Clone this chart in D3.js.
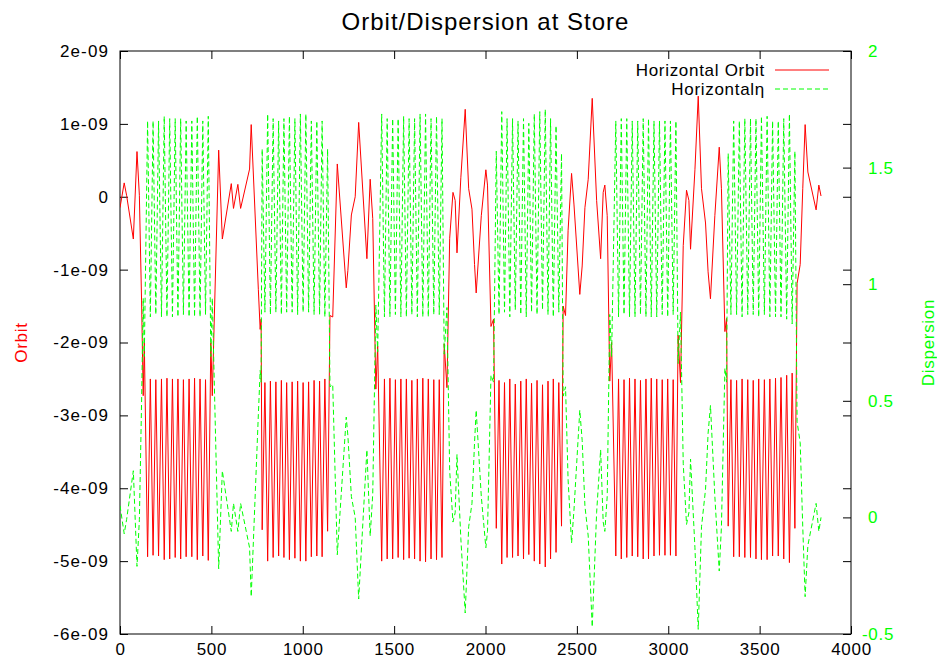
<!DOCTYPE html>
<html>
<head>
<meta charset="utf-8">
<script src="https://cdn.jsdelivr.net/npm/d3@7"></script>
<style>
  body { margin: 0; background: #fff; }
  svg { display: block; }
  text { font-family: "Liberation Sans", Arial, Helvetica, sans-serif; }
</style>
</head>
<body>
<svg id="chart" width="937" height="664"></svg>
<script>
// Lattice position (m) of each sample along the ring
const position = [
  0, 23, 36, 73, 93, 106, 118, 127, 133,
  151, 166, 181, 196, 211, 227, 242, 257, 272, 287, 302, 317, 332, 347, 362, 378, 393, 408, 423, 438, 453, 468, 483,
  497, 505, 540, 560, 609, 621, 645, 660, 709, 718, 757, 767, 772,
  778, 793, 808, 823, 838, 853, 868, 883, 897, 912, 927, 942, 957, 972, 987, 1002, 1017, 1032, 1047, 1062, 1077, 1092, 1106, 1121, 1136,
  1149, 1164, 1189, 1238, 1247, 1266, 1287, 1306, 1351, 1369, 1383, 1400, 1410,
  1432, 1447, 1462, 1477, 1492, 1507, 1522, 1537, 1552, 1567, 1582, 1597, 1612, 1627, 1642, 1657, 1672, 1687, 1702, 1717, 1732, 1747, 1762,
  1774, 1789, 1804, 1822, 1834, 1844, 1865, 1889, 1908, 1926, 1940, 1949, 1977, 2002, 2011, 2030, 2044,
  2059, 2074, 2089, 2104, 2118, 2133, 2148, 2163, 2178, 2193, 2208, 2223, 2237, 2252, 2267, 2282, 2297, 2312, 2327, 2342, 2356, 2371, 2386, 2401, 2416,
  2425, 2438, 2452, 2471, 2484, 2516, 2529, 2544, 2562, 2584, 2608, 2630, 2644, 2653, 2666, 2680, 2690,
  2713, 2728, 2743, 2758, 2773, 2788, 2803, 2818, 2833, 2848, 2863, 2878, 2892, 2907, 2922, 2937, 2952, 2967, 2982, 2997, 3012, 3027, 3042,
  3054, 3067, 3082, 3100, 3113, 3122, 3146, 3164, 3182, 3204, 3218, 3231, 3255, 3279, 3291, 3310, 3319,
  3328, 3343, 3358, 3374, 3389, 3404, 3419, 3435, 3450, 3465, 3480, 3495, 3510, 3526, 3541, 3556, 3571, 3587, 3602, 3617, 3632, 3648, 3663, 3678, 3693,
  3705, 3722, 3736, 3749, 3764, 3809, 3824, 3836
];

// Horizontal closed orbit, in units of 1e-9 m
const orbit = [
  -0.15, 0.19, 0.02, -0.58, 0.62, 0.02, -1.43, -2.73, -2.0,
  -4.94, -2.50, -4.92, -2.51, -4.93, -2.50, -4.98, -2.49, -4.97, -2.50, -4.95, -2.50, -4.97, -2.51, -4.94, -2.50, -4.94, -2.49, -4.98, -2.50, -4.93, -2.51, -4.99,
  -2.0, -2.73, 0.64, -0.58, 0.18, -0.16, 0.17, -0.16, 0.38, 0.99, -1.27, -1.82, -1.68,
  -4.57, -2.55, -5.0, -2.53, -4.95, -2.54, -4.93, -2.52, -4.95, -2.55, -4.98, -2.54, -4.96, -2.53, -5.0, -2.55, -5.0, -2.54, -4.94, -2.52, -4.93, -2.53, -4.94, -2.50, -4.59,
  -1.63, -1.65, 0.45, -1.25, -1.01, -0.25, 0.0, 1.02, -0.85, 0.24, -0.30, -2.64, -2.05,
  -5.0, -2.50, -4.97, -2.49, -4.97, -2.51, -4.95, -2.50, -4.98, -2.50, -4.96, -2.52, -4.97, -2.50, -5.0, -2.49, -5.01, -2.50, -4.97, -2.51, -4.98, -2.51, -4.95,
  -2.02, -2.62, -0.57, 0.06, -0.05, -0.77, 0.26, 1.20, 0.11, -0.17, -0.93, -1.32, -0.26, 0.37, 0.16, -1.78, -1.68,
  -4.55, -2.52, -5.04, -2.55, -4.95, -2.50, -4.95, -2.57, -4.93, -2.53, -4.97, -2.50, -4.91, -2.56, -5.0, -2.52, -5.04, -2.58, -5.08, -2.53, -4.97, -2.50, -4.88, -2.55, -4.52,
  -1.50, -1.63, -0.46, 0.32, -0.10, -1.34, -0.95, -0.15, 0.24, 1.35, -0.05, -0.85, 0.06, 0.16, -0.26, -2.53, -2.0,
  -4.93, -2.50, -4.97, -2.51, -4.95, -2.49, -4.93, -2.50, -4.94, -2.52, -4.97, -2.50, -4.97, -2.49, -4.93, -2.50, -4.92, -2.51, -4.92, -2.50, -4.92, -2.51, -4.93,
  -1.90, -2.55, -0.67, 0.09, -0.05, -0.72, 0.37, 1.38, 0.11, -0.36, -1.03, -1.40, -0.26, 0.68, 0.11, -1.85, -1.67,
  -4.52, -2.51, -4.94, -2.52, -4.94, -2.50, -4.95, -2.51, -4.95, -2.52, -4.97, -2.50, -4.98, -2.51, -4.98, -2.50, -4.93, -2.49, -4.93, -2.48, -4.97, -2.45, -5.02, -2.42, -4.55,
  -1.19, -0.93, 0.11, 0.99, 0.34, -0.18, 0.16, 0.01
];

// Horizontal dispersion (m)
const dispersion = [
  0.05, -0.07, -0.01, 0.20, -0.21, -0.01, 0.49, 0.94, 0.69,
  1.70, 0.86, 1.70, 0.87, 1.70, 0.86, 1.72, 0.86, 1.71, 0.86, 1.71, 0.86, 1.71, 0.87, 1.70, 0.86, 1.70, 0.86, 1.72, 0.86, 1.70, 0.87, 1.72,
  0.69, 0.94, -0.22, 0.20, -0.06, 0.06, -0.06, 0.06, -0.13, -0.34, 0.44, 0.63, 0.58,
  1.58, 0.88, 1.73, 0.87, 1.71, 0.88, 1.70, 0.87, 1.71, 0.88, 1.72, 0.88, 1.71, 0.87, 1.73, 0.88, 1.73, 0.88, 1.70, 0.87, 1.70, 0.87, 1.70, 0.86, 1.58,
  0.56, 0.57, -0.16, 0.43, 0.35, 0.09, 0.0, -0.35, 0.29, -0.08, 0.10, 0.91, 0.71,
  1.73, 0.86, 1.71, 0.86, 1.71, 0.87, 1.71, 0.86, 1.72, 0.86, 1.71, 0.87, 1.71, 0.86, 1.73, 0.86, 1.73, 0.86, 1.71, 0.87, 1.72, 0.87, 1.71,
  0.70, 0.90, 0.20, -0.02, 0.02, 0.27, -0.09, -0.41, -0.04, 0.06, 0.32, 0.46, 0.09, -0.13, -0.06, 0.61, 0.58,
  1.57, 0.87, 1.74, 0.88, 1.71, 0.86, 1.71, 0.89, 1.70, 0.87, 1.71, 0.86, 1.69, 0.88, 1.73, 0.87, 1.74, 0.89, 1.75, 0.87, 1.71, 0.86, 1.68, 0.88, 1.56,
  0.52, 0.56, 0.16, -0.11, 0.03, 0.46, 0.33, 0.05, -0.08, -0.47, 0.02, 0.29, -0.02, -0.06, 0.09, 0.87, 0.69,
  1.70, 0.86, 1.71, 0.87, 1.71, 0.86, 1.70, 0.86, 1.70, 0.87, 1.71, 0.86, 1.71, 0.86, 1.70, 0.86, 1.70, 0.87, 1.70, 0.86, 1.70, 0.87, 1.70,
  0.66, 0.88, 0.23, -0.03, 0.02, 0.25, -0.13, -0.48, -0.04, 0.12, 0.36, 0.48, 0.09, -0.23, -0.04, 0.64, 0.58,
  1.56, 0.87, 1.70, 0.87, 1.70, 0.86, 1.71, 0.87, 1.71, 0.87, 1.71, 0.86, 1.72, 0.87, 1.72, 0.86, 1.70, 0.86, 1.70, 0.86, 1.71, 0.85, 1.73, 0.83, 1.57,
  0.41, 0.32, -0.04, -0.34, -0.12, 0.06, -0.06, 0.0
];

const ORBIT_UNIT = 1e-9;

const xTicks = [0, 500, 1000, 1500, 2000, 2500, 3000, 3500, 4000];
const orbitTicks = [2e-9, 1e-9, 0, -1e-9, -2e-9, -3e-9, -4e-9, -5e-9, -6e-9];
const orbitTickLabels = ["2e-09", "1e-09", "0", "-1e-09", "-2e-09", "-3e-09", "-4e-09", "-5e-09", "-6e-09"];
const dispTicks = [2, 1.5, 1, 0.5, 0, -0.5];
const dispTickLabels = ["2", "1.5", "1", "0.5", "0", "-0.5"];
const seriesNames = ["Horizontal Orbit", "Horizontal\u03b7"];
const seriesColors = ["#ff0000", "#00ff00"];

(function draw() {
  const svg = d3.select("#chart");
  const plotLeft = 120, plotRight = 851, plotTop = 51, plotBottom = 634;

  const x = d3.scaleLinear().domain([0, 4000]).range([plotLeft, plotRight]);
  const yOrbit = d3.scaleLinear().domain([-6e-9, 2e-9]).range([plotBottom, plotTop]);
  const yDisp = d3.scaleLinear().domain([-0.5, 2]).range([plotBottom, plotTop]);

  const fontSize = "17px";
  const spacing = "0.7px";

  // Title
  svg.append("text")
    .attr("x", (plotLeft + plotRight) / 2).attr("y", 30)
    .attr("text-anchor", "middle")
    .style("font-size", "24px")
    .style("letter-spacing", "1px")
    .text("Orbit/Dispersion at Store");

  function styleAxis(g, ls) {
    g.select(".domain").remove();
    g.selectAll(".tick line").attr("stroke", "#000");
    g.selectAll(".tick text").style("font-size", fontSize).style("letter-spacing", ls || spacing).attr("fill", "#000")
      .style("font-family", "'Liberation Sans', Arial, Helvetica, sans-serif");
  }

  svg.append("g").attr("transform", `translate(0,${plotBottom})`)
    .call(d3.axisBottom(x).tickValues(xTicks).tickSizeInner(-8).tickSizeOuter(0).tickPadding(9).tickFormat(d3.format("d")))
    .call(styleAxis);

  svg.append("g").attr("transform", `translate(0,${plotTop})`)
    .call(d3.axisTop(x).tickValues(xTicks).tickSizeInner(-8).tickSizeOuter(0).tickFormat(""))
    .call(styleAxis);

  svg.append("g").attr("transform", `translate(${plotLeft},0)`)
    .call(d3.axisLeft(yOrbit).tickValues(orbitTicks).tickSizeInner(-8).tickSizeOuter(0).tickPadding(11)
      .tickFormat((d, i) => orbitTickLabels[i]))
    .call(styleAxis, "1.1px");

  svg.append("g").attr("transform", `translate(${plotRight},0)`)
    .call(d3.axisRight(yOrbit).tickValues(orbitTicks).tickSizeInner(-8).tickSizeOuter(0).tickFormat(""))
    .call(styleAxis);

  // Right-hand labels are left-justified with room kept for a sign
  const rightAxis = svg.append("g").attr("transform", `translate(${plotRight},0)`)
    .call(d3.axisRight(yDisp).tickValues(dispTicks).tickSizeInner(-8).tickSizeOuter(0).tickPadding(17)
      .tickFormat((d, i) => dispTickLabels[i]))
    .call(styleAxis);
  rightAxis.selectAll(".tick text")
    .attr("fill", seriesColors[1])
    .attr("dx", (d, i) => dispTickLabels[i].startsWith("-") ? -6 : 0);

  // Frame
  svg.append("rect")
    .attr("x", plotLeft).attr("y", plotTop)
    .attr("width", plotRight - plotLeft).attr("height", plotBottom - plotTop)
    .attr("fill", "none").attr("stroke", "#000").attr("stroke-width", 1);

  // Axis titles
  svg.append("text")
    .attr("transform", `translate(27,${(plotTop + plotBottom) / 2}) rotate(-90)`)
    .attr("text-anchor", "middle")
    .style("font-size", fontSize)
    .style("letter-spacing", spacing)
    .attr("fill", seriesColors[0])
    .text("Orbit");

  svg.append("text")
    .attr("transform", `translate(934,${(plotTop + plotBottom) / 2}) rotate(-90)`)
    .attr("text-anchor", "middle")
    .style("font-size", fontSize)
    .style("letter-spacing", spacing)
    .attr("fill", seriesColors[1])
    .text("Dispersion");

  // Series
  svg.append("clipPath").attr("id", "plot-clip")
    .append("rect").attr("x", plotLeft).attr("y", plotTop)
    .attr("width", plotRight - plotLeft).attr("height", plotBottom - plotTop);

  const plot = svg.append("g").attr("clip-path", "url(#plot-clip)");

  const orbitLine = d3.line()
    .x((d, i) => x(position[i]))
    .y(d => yOrbit(d * ORBIT_UNIT));

  const dispLine = d3.line()
    .x((d, i) => x(position[i]))
    .y(d => yDisp(d));

  plot.append("path")
    .datum(orbit)
    .attr("d", orbitLine)
    .attr("fill", "none")
    .attr("stroke", seriesColors[0])
    .attr("stroke-width", 1);

  plot.append("path")
    .datum(dispersion)
    .attr("d", dispLine)
    .attr("fill", "none")
    .attr("stroke", seriesColors[1])
    .attr("stroke-width", 1)
    .attr("stroke-dasharray", "5,3");

  // Legend
  const legend = svg.append("g");
  seriesNames.forEach((name, i) => {
    const cy = 70 + i * 19;
    legend.append("text")
      .attr("x", 765).attr("y", cy + 6)
      .attr("text-anchor", "end")
      .style("font-size", fontSize)
      .style("letter-spacing", spacing)
      .text(name);
    legend.append("line")
      .attr("x1", 775).attr("x2", 829)
      .attr("y1", cy).attr("y2", cy)
      .attr("stroke", seriesColors[i])
      .attr("stroke-width", 1)
      .attr("stroke-dasharray", i === 1 ? "5,3" : null);
  });
})();
</script>
</body>
</html>
